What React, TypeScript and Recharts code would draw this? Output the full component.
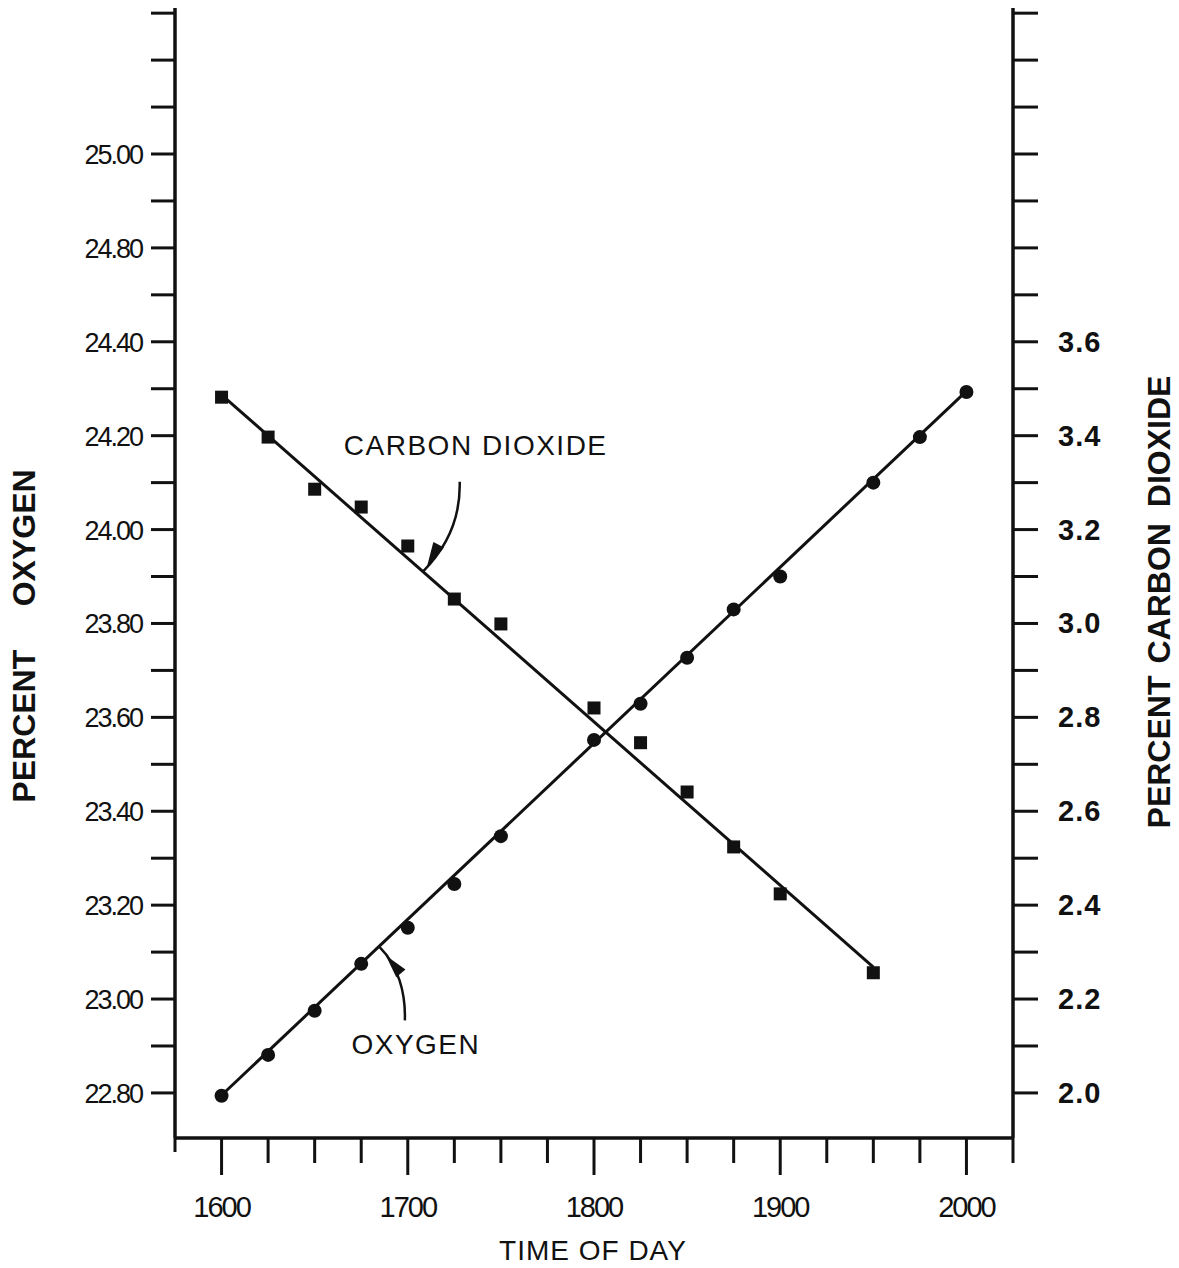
import React from "react";
import { ComposedChart, Line, Scatter, XAxis, YAxis, ReferenceDot, Label } from "recharts";

// readings (time of day, percent) taken off the plot
const oxygenTimes = [1600, 1625, 1650, 1675, 1700, 1725, 1750, 1800, 1825, 1850, 1875, 1900, 1950, 1975, 2000];
const oxygenValues = [22.794, 22.881, 22.975, 23.075, 23.152, 23.245, 23.347, 23.552, 23.629, 23.727, 23.83, 23.9, 24.1, 24.197, 24.293];
const co2Times = [1600, 1625, 1650, 1675, 1700, 1725, 1750, 1800, 1825, 1850, 1875, 1900, 1950];
const co2Values = [3.482, 3.397, 3.286, 3.248, 3.165, 3.052, 2.999, 2.82, 2.746, 2.641, 2.524, 2.424, 2.256];

// fitted straight lines, end points as drawn
const oxygenFitTimes = [1600, 2000];
const oxygenFitValues = [22.795, 24.295];
const co2FitTimes = [1600, 1950];
const co2FitValues = [3.487, 2.268];

// axes
const timeTicks = [1575, 1600, 1625, 1650, 1675, 1700, 1725, 1750, 1775, 1800, 1825, 1850, 1875, 1900, 1925, 1950, 1975, 2000, 2025];
const timeLabelValues = [1600, 1700, 1800, 1900, 2000];
const timeLabels = ["1600", "1700", "1800", "1900", "2000"];

const oxygenTicks = [22.8, 22.9, 23.0, 23.1, 23.2, 23.3, 23.4, 23.5, 23.6, 23.7, 23.8, 23.9, 24.0, 24.1, 24.2, 24.3, 24.4, 24.5, 24.6, 24.7, 24.8, 24.9, 25.0, 25.1];
const oxygenLabelValues = [22.8, 23.0, 23.2, 23.4, 23.6, 23.8, 24.0, 24.2, 24.4, 24.6, 24.8];
// printed as in the original figure
const oxygenLabels = ["22.80", "23.00", "23.20", "23.40", "23.60", "23.80", "24.00", "24.20", "24.40", "24.80", "25.00"];

const co2Ticks = [2.0, 2.1, 2.2, 2.3, 2.4, 2.5, 2.6, 2.7, 2.8, 2.9, 3.0, 3.1, 3.2, 3.3, 3.4, 3.5, 3.6, 3.7, 3.8, 3.9, 4.0, 4.1, 4.2, 4.3];
const co2LabelValues = [2.0, 2.2, 2.4, 2.6, 2.8, 3.0, 3.2, 3.4, 3.6];
const co2Labels = ["2.0", "2.2", "2.4", "2.6", "2.8", "3.0", "3.2", "3.4", "3.6"];

const oxygenData = oxygenTimes.map((t, i) => ({ time: t, oxygen: oxygenValues[i] }));
const co2Data = co2Times.map((t, i) => ({ time: t, co2: co2Values[i] }));
const oxygenFit = oxygenFitTimes.map((t, i) => ({ time: t, oxygen: oxygenFitValues[i] }));
const co2Fit = co2FitTimes.map((t, i) => ({ time: t, co2: co2FitValues[i] }));

const FONT = "'Liberation Sans', Arial, sans-serif";
const INK = "#111";

const findIdx = (arr: number[], v: number) => arr.findIndex((a) => Math.abs(a - v) < 1e-6);

function TimeTick(props: any) {
  const { x, y, payload } = props;
  const i = findIdx(timeLabelValues, payload.value);
  const len = payload.value === 1575 ? 14 : i >= 0 ? 37 : 25;
  return (
    <g>
      <line x1={x} y1={y} x2={x} y2={y + len} stroke={INK} strokeWidth={3} />
      {i >= 0 ? (
        <text x={x} y={y + 79} textAnchor="middle" fontSize={29} letterSpacing={-2} fontFamily={FONT} fill={INK}>
          {timeLabels[i]}
        </text>
      ) : null}
    </g>
  );
}

function OxygenTick(props: any) {
  const { x, y, payload } = props;
  const i = findIdx(oxygenLabelValues, payload.value);
  return (
    <g>
      <line x1={x} y1={y} x2={x - 24} y2={y} stroke={INK} strokeWidth={3} />
      {i >= 0 ? (
        <text x={x - 33} y={y + 10} textAnchor="end" fontSize={27} letterSpacing={-2} fontFamily={FONT} fill={INK}>
          {oxygenLabels[i]}
        </text>
      ) : null}
    </g>
  );
}

function Co2Tick(props: any) {
  const { x, y, payload } = props;
  const i = findIdx(co2LabelValues, payload.value);
  return (
    <g>
      <line x1={x} y1={y} x2={x + 25} y2={y} stroke={INK} strokeWidth={3} />
      {i >= 0 ? (
        <text x={x + 45} y={y + 10} textAnchor="start" fontSize={29} fontWeight={700} letterSpacing={1} fontFamily={FONT} fill={INK}>
          {co2Labels[i]}
        </text>
      ) : null}
    </g>
  );
}

const Dot = (p: any) => <circle cx={p.cx} cy={p.cy} r={7} fill={INK} />;
const Square = (p: any) => <rect x={p.cx - 6.5} y={p.cy - 6.5} width={13} height={13} fill={INK} />;

// curved pointer; tip of the curve sits on the fitted line at (cx, cy)
function Pointer(props: any) {
  const { cx, cy, path, head, text, tx, ty } = props;
  const [bx, by, hx, hy] = head;
  const dx = hx - bx;
  const dy = hy - by;
  const len = Math.hypot(dx, dy);
  const nx = (-dy / len) * 6;
  const ny = (dx / len) * 6;
  return (
    <g transform={`translate(${cx},${cy})`}>
      <path d={path} fill="none" stroke={INK} strokeWidth={2.5} />
      <polygon points={`${bx + nx},${by + ny} ${bx - nx},${by - ny} ${hx},${hy}`} fill={INK} />
      <text x={tx} y={ty} textAnchor="middle" fontSize={28} letterSpacing={1.5} fontFamily={FONT} fill={INK}>
        {text}
      </text>
    </g>
  );
}

export default function App() {
  return (
    <div style={{ position: "absolute", left: 0, top: 0, background: "#fff" }}>
      <ComposedChart width={1179} height={1268} margin={{ top: 8, right: 0, bottom: 0, left: 0 }}>
        <XAxis
          dataKey="time"
          type="number"
          domain={[1575, 2025]}
          allowDataOverflow
          ticks={timeTicks}
          interval={0}
          height={130}
          tickSize={0}
          tickMargin={0}
          tickLine={false}
          tick={<TimeTick />}
          axisLine={{ stroke: INK, strokeWidth: 3.5 }}
        >
          <Label
            content={(p: any) => (
              <text x={593} y={1260} textAnchor="middle" fontSize={28} letterSpacing={1} fontFamily={FONT} fill={INK}>
                TIME OF DAY
              </text>
            )}
          />
        </XAxis>
        <YAxis
          yAxisId="oxygen"
          orientation="left"
          type="number"
          domain={[22.704, 25.111]}
          allowDataOverflow
          ticks={oxygenTicks}
          interval={0}
          width={175}
          tickSize={0}
          tickMargin={0}
          tickLine={false}
          tick={<OxygenTick />}
          axisLine={{ stroke: INK, strokeWidth: 3.5 }}
        >
          <Label
            content={() => (
              <text transform="translate(35,636) rotate(-90)" textAnchor="middle" fontSize={32} fontWeight={700} fontFamily={FONT} fill={INK}>
                <tspan>PERCENT</tspan>
                <tspan dx={44}>OXYGEN</tspan>
              </text>
            )}
          />
        </YAxis>
        <YAxis
          yAxisId="co2"
          orientation="right"
          type="number"
          domain={[1.904, 4.311]}
          allowDataOverflow
          ticks={co2Ticks}
          interval={0}
          width={166}
          tickSize={0}
          tickMargin={0}
          tickLine={false}
          tick={<Co2Tick />}
          axisLine={{ stroke: INK, strokeWidth: 3.5 }}
        >
          <Label
            content={() => (
              <text transform="translate(1170,602) rotate(-90)" textAnchor="middle" fontSize={32} fontWeight={700} fontFamily={FONT} fill={INK}>
                <tspan>PERCENT</tspan>
                <tspan dx={12}>CARBON</tspan>
                <tspan dx={16}>DIOXIDE</tspan>
              </text>
            )}
          />
        </YAxis>

        <Line yAxisId="oxygen" data={oxygenFit} dataKey="oxygen" stroke={INK} strokeWidth={3} dot={false} activeDot={false} isAnimationActive={false} />
        <Line yAxisId="co2" data={co2Fit} dataKey="co2" stroke={INK} strokeWidth={3} dot={false} activeDot={false} isAnimationActive={false} />
        <Scatter yAxisId="oxygen" data={oxygenData} dataKey="oxygen" shape={Dot} isAnimationActive={false} />
        <Scatter yAxisId="co2" data={co2Data} dataKey="co2" shape={Square} isAnimationActive={false} />

        <ReferenceDot
          yAxisId="co2"
          x={1708}
          y={3.11}
          r={0}
          ifOverflow="visible"
          shape={(p: any) => (
            <Pointer
              {...p}
              path="M 37 -90 C 38 -55 26 -26 0 0"
              head={[16, -27, 4, -4]}
              text="CARBON DIOXIDE"
              tx={53}
              ty={-117}
            />
          )}
        />
        <ReferenceDot
          yAxisId="oxygen"
          x={1685}
          y={23.11}
          r={0}
          ifOverflow="visible"
          shape={(p: any) => (
            <Pointer
              {...p}
              path="M 25 73 C 26 45 18 18 0 0"
              head={[21, 26, 6, 8]}
              text="OXYGEN"
              tx={36}
              ty={107}
            />
          )}
        />
      </ComposedChart>
    </div>
  );
}
